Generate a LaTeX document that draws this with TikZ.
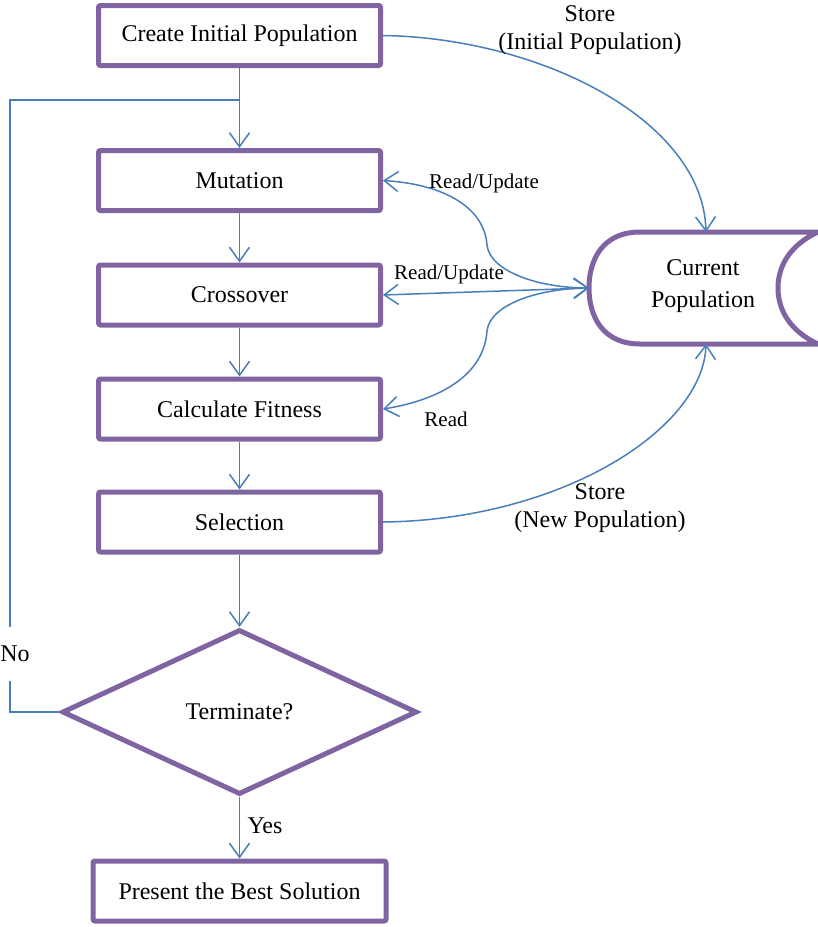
\documentclass[tikz,border=0pt]{standalone}
\usepackage{fontspec}
\setmainfont{Liberation Serif}
\usetikzlibrary{arrows.meta,shapes.geometric}
\definecolor{boxpurple}{HTML}{8064A2}
\definecolor{flowblue}{HTML}{4A7EBB}
\tikzset{
  proc/.style={draw=boxpurple, line width=2.5pt, rounded corners=1pt,
    minimum width=141pt, minimum height=30pt, inner sep=0pt,
    font=\fontsize{12}{14}\selectfont},
  decide/.style={diamond, draw=boxpurple, line width=2.5pt,
    minimum width=177.5pt, minimum height=82.5pt, inner sep=0pt,
    font=\fontsize{12}{14}\selectfont},
  tip/.tip={Straight Barb[length=7pt,width=10pt,line width=0.75pt]},
  flow/.style={draw=flowblue, line width=0.75pt, -tip},
  link/.style={draw=flowblue, line width=0.75pt},
  biflow/.style={draw=flowblue, line width=0.75pt, tip-tip},
  biglabel/.style={align=center, font=\fontsize{12}{14}\selectfont, inner sep=0pt},
  smalllabel/.style={font=\fontsize{10.5}{12}\selectfont, inner sep=0pt},
}
\begin{document}
\begin{tikzpicture}[x=0.5pt, y=-0.5pt]
\useasboundingbox (0,0) rectangle (818,927);

% process steps
\node[proc] (cre) at (239.5,35.5) {Create Initial Population};
\node[proc] (mut) at (239.5,180.5) {Mutation};
\node[proc] (cro) at (239.5,295) {Crossover};
\node[proc] (fit) at (239.5,409) {Calculate Fitness};
\node[proc] (sel) at (239.5,522) {Selection};
\node[decide] (dia) at (239.5,712) {Terminate?};
\node[proc, minimum width=146.5pt] (best) at (239.5,891) {Present the Best Solution};

% population store
\draw[boxpurple, line width=2.5pt]
  (640,232) -- (818,232)
  (818,344) -- (640,344)
  .. controls (604,344) and (589,318) .. (589,288)
  .. controls (589,258) and (604,232) .. (640,232)
  (818,232) .. controls (792,244) and (778,264) .. (778,288)
  .. controls (778,312) and (792,332) .. (818,344);
\node[biglabel, font=\fontsize{12}{16}\selectfont] (pop) at (703,286) {Current\\Population};
\coordinate (popw) at (589,288);
\coordinate (popn) at (706,232);
\coordinate (pops) at (706,344);

% main flow
\draw[flow] (cre) -- (mut);
\draw[flow] (mut) -- (cro);
\draw[flow] (cro) -- (fit);
\draw[flow] (fit) -- (sel);
\draw[flow] (sel) -- (dia);
\draw[flow] (dia) -- (best);
\node[biglabel] (yes) at (265,826) {Yes};

% loop back
\coordinate (loopin) at (239.5,100);
\draw[link] (dia.west) -- (10,712) -- (10,100) -- (loopin);
\node[biglabel, fill=white, minimum height=27pt, minimum width=16pt] (no) at (15,654) {No};

% population access
\draw[flow] (cre.east) .. controls (540,38) and (703,120) .. (popn);
\node[biglabel] (storeinit) at (590,30) {Store\\(Initial Population)};
\draw[flow] (sel.east) .. controls (560,520) and (703,430) .. (pops);
\node[biglabel] (storenew) at (600,508) {Store\\(New Population)};

\draw[biflow] (popw) .. controls (540,288) and (490,272) .. (487,245)
  .. controls (484,205) and (440,184) .. (mut.east);
\node[smalllabel] (ru1) at (484,183) {Read/Update};
\draw[biflow] (popw) -- (cro.east);
\node[smalllabel] (ru2) at (449,274) {Read/Update};
\draw[flow] (popw) .. controls (540,288) and (490,304) .. (487,331)
  .. controls (484,375) and (440,400) .. (fit.east);
\node[smalllabel] (rd) at (446,419) {Read};
\end{tikzpicture}
\end{document}
